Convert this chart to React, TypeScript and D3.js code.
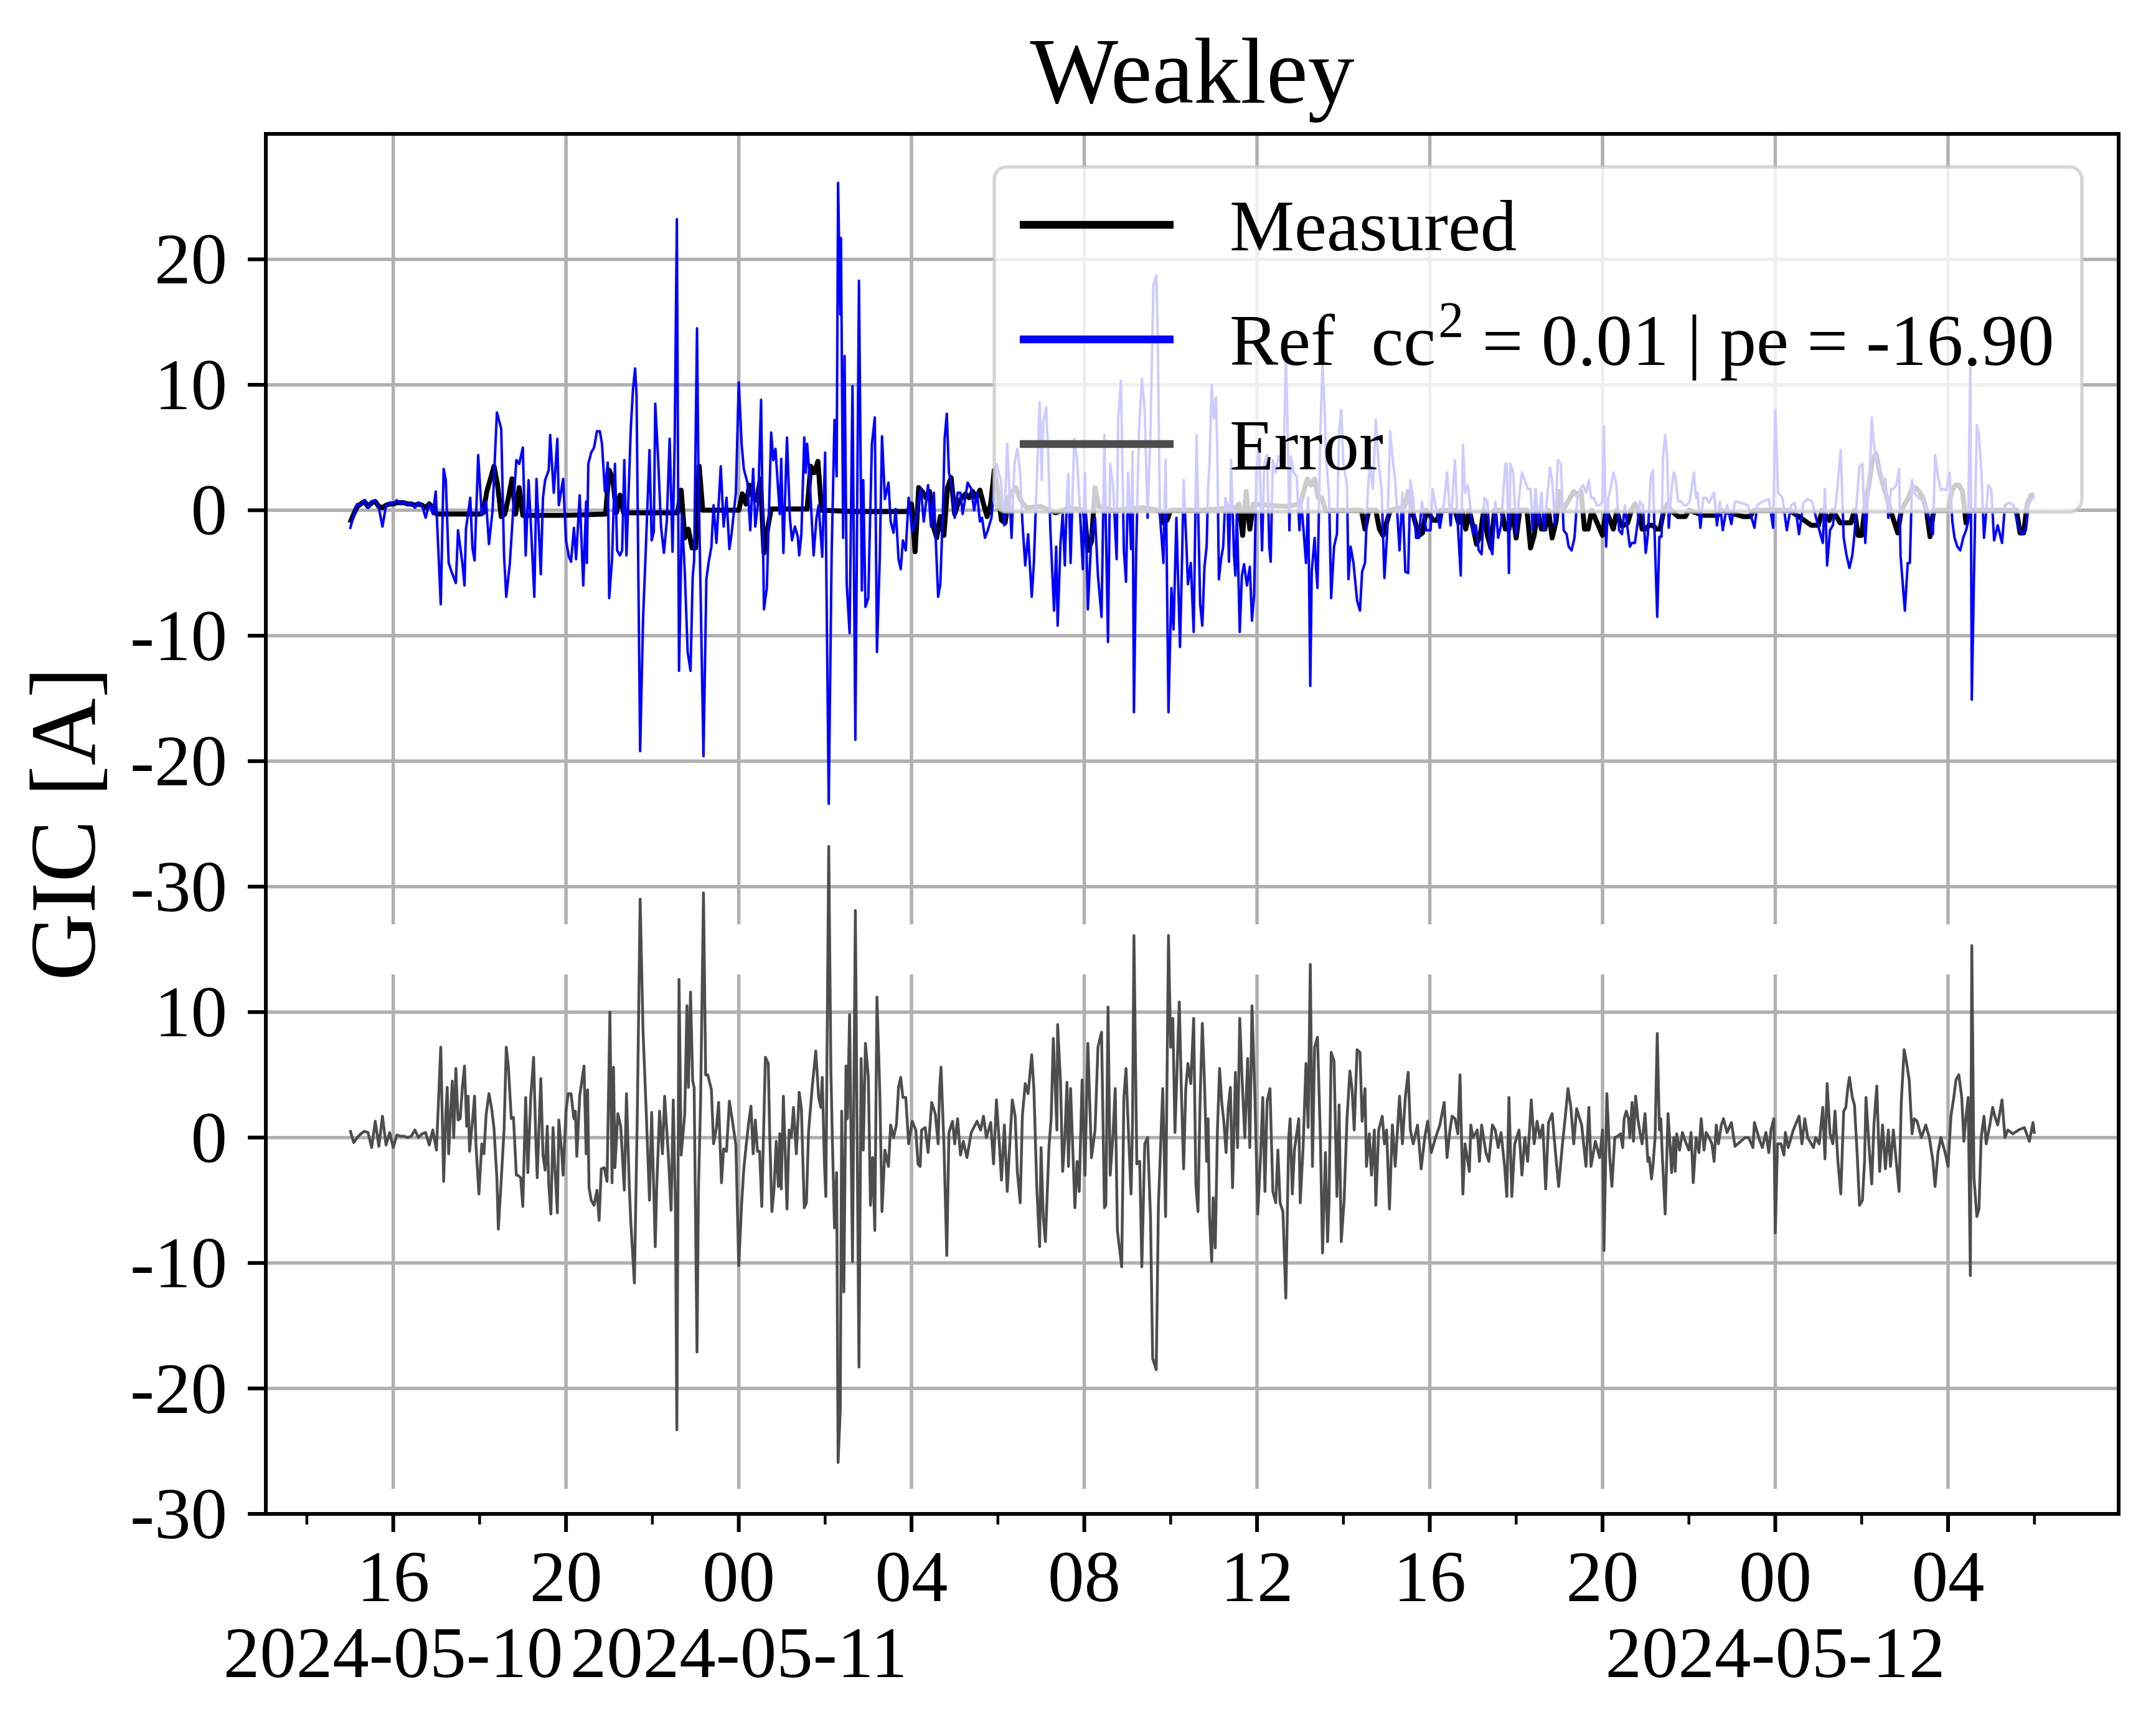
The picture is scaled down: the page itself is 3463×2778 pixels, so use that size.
import * as d3 from 'd3'

// minutes after 2024-05-10 15:00 UTC, GIC in amperes
const START = Date.UTC(2024, 4, 10, 15, 0)

const measured: [number, number][] = [
  [0,-1.0],[5,-0.3],[10,0.3],[15,0.5],[20,0.7],[25,0.3],[30,0.6],[35,0.7],[40,0.3],[45,0.2],[50,0.4],[55,0.5],[60,0.5],[65,0.6],[70,0.6],[75,0.6],[80,0.5],[85,0.5],[90,0.4],[95,0.5],[100,0.4],[105,0.2],[110,0.5],[115,0.2],[120,-0.3],[150,-0.3],[180,-0.3],[185,-0.2],[190,1.5],[195,2.5],[200,3.5],[205,2.0],[210,-0.5],[215,-0.3],[220,1.0],[225,2.5],[230,-0.3],[235,1.8],[240,-0.4],[300,-0.4],[355,-0.3],[360,3.2],[365,2.5],[370,-0.2],[375,1.2],[380,-0.2],[455,-0.2],[460,1.6],[465,-2.2],[470,-1.5],[475,-3.0],[480,-3.0],[485,3.5],[490,0.0],[540,0.0],[545,1.3],[550,0.5],[555,2.0],[560,1.0],[565,0.8],[570,2.5],[575,-3.4],[580,-1.5],[585,0.1],[635,0.1],[640,3.5],[645,3.0],[650,3.9],[655,0.0],[700,-0.1],[775,-0.1],[780,0.5],[785,-3.3],[790,1.8],[795,1.5],[800,1.0],[805,1.5],[810,-1.2],[815,-2.2],[820,-0.5],[825,-2.0],[830,1.8],[835,2.6],[840,-0.3],[845,0.6],[850,1.0],[855,1.3],[860,1.0],[865,1.5],[870,1.0],[875,1.6],[880,0.5],[885,-0.5],[890,0.5],[895,3.2],[900,1.5],[905,-0.8],[910,-1.0],[915,1.0],[920,1.5],[925,1.8],[930,1.0],[935,0.5],[940,0.2],[960,0.3],[980,-0.2],[1000,0.2],[1020,0.0],[1025,-3.2],[1030,-2.5],[1035,1.8],[1040,0.3],[1060,0.0],[1100,0.2],[1125,0.0],[1130,-1.0],[1135,-0.8],[1140,0.0],[1180,0.0],[1230,0.2],[1235,0.5],[1240,-2.0],[1245,1.5],[1250,-1.5],[1255,0.5],[1300,0.3],[1320,0.5],[1325,1.5],[1330,2.5],[1335,2.0],[1340,2.5],[1345,1.0],[1350,1.0],[1355,0.0],[1405,0.0],[1410,-1.5],[1415,0.0],[1425,0.0],[1430,-1.5],[1435,-2.0],[1440,-1.0],[1445,0.0],[1465,0.3],[1470,1.5],[1475,0.0],[1485,-2.0],[1490,-1.8],[1495,0.0],[1505,-0.8],[1510,-0.8],[1515,0.0],[1535,0.0],[1540,-1.0],[1545,0.0],[1550,-1.5],[1555,0.0],[1565,-2.7],[1570,-2.0],[1575,0.0],[1580,-2.0],[1585,-3.0],[1590,0.0],[1600,0.0],[1605,-1.5],[1610,-1.5],[1615,0.0],[1620,-2.2],[1625,0.0],[1635,0.0],[1640,-3.0],[1645,-2.0],[1650,0.0],[1655,-1.5],[1660,-1.5],[1665,0.0],[1670,-2.2],[1675,-1.0],[1680,1.5],[1685,0.0],[1700,1.5],[1705,1.2],[1710,1.5],[1715,-1.5],[1720,-1.5],[1725,0.0],[1740,-2.0],[1745,0.0],[1755,-1.5],[1760,0.0],[1765,-1.2],[1770,-1.2],[1775,-1.0],[1780,0.0],[1785,0.5],[1790,0.0],[1795,-1.5],[1800,-1.5],[1805,-1.2],[1810,-1.2],[1815,-1.5],[1820,-1.5],[1825,0.0],[1830,0.5],[1835,0.0],[1845,-0.5],[1855,-0.5],[1860,0.0],[1880,-0.4],[1900,-0.4],[1905,0.0],[1935,-0.5],[1945,-0.5],[1950,0.0],[2000,0.0],[2030,-1.2],[2040,-1.2],[2045,0.0],[2055,-0.8],[2060,0.0],[2070,-1.0],[2085,-1.0],[2090,0.0],[2095,-2.0],[2100,-2.0],[2105,0.5],[2110,2.0],[2115,4.0],[2120,4.5],[2125,3.0],[2130,2.0],[2135,1.0],[2140,0.0],[2150,-1.8],[2155,0.0],[2165,1.0],[2170,1.8],[2175,1.8],[2180,1.5],[2185,1.0],[2190,0.0],[2195,-2.1],[2200,0.0],[2220,0.0],[2225,1.5],[2230,2.0],[2235,2.0],[2240,1.5],[2245,-1.0],[2250,0.0],[2315,0.0],[2320,-1.8],[2325,-1.8],[2330,0.5],[2335,1.2],[2340,1.2],
]

const reference: [number, number][] = [
  [0,-1.5],[5,-0.4],[10,0.5],[15,0.4],[20,0.8],[25,0.2],[30,0.7],[35,0.8],[40,0.2],[45,-1.3],[50,0.4],[55,0.6],[60,0.5],[65,0.8],[70,0.5],[75,0.7],[80,0.4],[85,0.6],[90,0.2],[95,0.6],[100,0.4],[105,-0.6],[110,0.5],[115,-0.3],
  [119,1.5],[126,-7.5],[130,3.3],[133,2.4],[137,-4.2],[141,-4.9],[147,-5.8],[150,-1.6],[156,-4.2],[159,-6.0],[161,-1.5],[167,1.0],[170,-3.0],[173,-4.0],[178,4.4],[183,-0.4],[189,0.7],[193,-2.7],[198,0.0],[204,7.8],[210,6.5],[214,-3.7],[217,-6.9],[222,-4.2],[227,0.4],[231,4.0],[235,3.7],[240,5.0],[244,-3.6],[248,2.4],[251,-0.9],[256,-6.9],[259,2.5],[265,-5.1],[268,1.0],[271,2.4],[276,3.2],[278,6.0],[283,1.4],[288,5.7],[290,0.4],[296,2.5],[300,-2.4],[304,-3.7],[307,-4.1],[311,-1.4],[314,-3.9],[319,1.2],[324,-6.0],[328,0.7],[329,-4.2],[331,3.7],[335,4.6],[339,5.0],[343,6.3],[347,6.3],[350,5.3],[354,1.5],[358,3.8],[360,-7.0],[364,-3.9],[368,3.7],[371,-3.2],[375,-3.6],[378,-3.2],[381,4.0],[384,-3.6],[390,6.5],[393,9.6],[396,11.3],[398,9.2],[400,-2.2],[403,-19.2],[407,-8.8],[411,-2.9],[416,4.8],[419,-2.4],[422,-1.7],[424,8.5],[428,4.1],[432,-1.3],[436,-3.4],[440,-0.9],[444,5.7],[448,-3.3],[451,5.5],[454,23.2],[457,-12.8],[461,-0.4],[465,-4.9],[469,-11.3],[473,-12.8],[476,-5.3],[478,-4.0],[482,14.5],[484,3.0],[491,-19.6],[495,-5.5],[498,-4.2],[502,-2.9],[505,0.4],[509,-2.6],[515,3.5],[519,-1.3],[523,1.0],[527,-3.1],[530,-1.9],[536,1.4],[540,10.2],[544,5.3],[547,3.3],[552,2.2],[556,-1.6],[560,3.3],[563,-1.3],[567,0.7],[571,8.8],[575,-7.9],[579,-6.2],[585,6.2],
  [588,4.0],[591,4.9],[597,-0.3],[599,4.1],[602,-3.4],[607,5.8],[611,-0.6],[614,-2.4],[618,-1.3],[622,-2.1],[624,-3.6],[627,-1.9],[631,5.8],[633,3.0],[635,5.3],[638,3.0],[641,-0.3],[644,-3.6],[648,-0.6],[651,0.4],[656,-3.7],[660,4.6],[665,-23.4],[669,-3.6],[673,7.2],[676,2.7],[678,26.1],[681,15.6],[682,21.7],[685,-2.2],[687,12.3],[690,-5.9],[694,-9.8],[698,9.9],[702,-18.3],[707,18.3],[711,-6.4],[713,2.4],[716,-7.7],[720,-7.0],[722,-1.8],[725,5.3],[729,7.4],[732,-11.3],[736,-3.6],[739,5.9],[743,0.9],[748,2.2],[751,-0.9],[755,-1.8],[758,0.1],[762,-3.9],[765,-4.7],[768,-2.4],[772,-3.2],[776,1.0],[781,-1.7],[786,-0.8],[790,0.7],[793,1.7],[797,-0.9],[803,2.0],[807,-1.3],[811,1.4],[817,-6.9],[820,-5.9],[824,0.7],[826,5.7],[829,7.7],[832,3.0],[836,2.0],[840,-0.6],[844,1.4],[848,1.4],[851,-0.3],[855,1.1],[858,2.2],[863,1.7],[867,0.0],[871,1.4],[875,-0.9],[878,-0.6],[882,-2.2],[886,-1.6],[891,-0.6],[898,3.7],[904,2.4],[909,-1.2],[913,5.3],[919,-2.2],[923,3.7],[927,4.9],[931,3.0],[934,-0.9],[938,-4.4],[942,-1.9],[947,-6.9],[950,-4.2],[954,2.4],[958,8.6],[961,2.4],[963,7.0],[967,8.2],[970,4.3],[973,-1.7],[978,-8.0],[981,-2.9],[983,-9.2],[987,-2.6],[990,-0.3],[993,-4.4],[996,1.4],[998,2.9],[1001,-4.2],[1006,5.7],[1010,4.0],[1014,0.0],[1018,-4.7],[1021,3.0],[1025,-7.9],[1030,-1.9],[1035,-0.6],[1039,-5.2],[1044,-8.5],[1048,6.0],[1050,-1.2],[1053,-10.5],[1056,3.7],[1060,2.0],[1065,-3.9],[1067,7.3],[1071,10.3],[1075,-3.2],[1078,-5.7],[1081,3.0],[1085,-3.1],[1087,4.7],[1089,-16.1],[1092,-3.6],[1096,6.3],[1100,10.5],[1104,8.0],[1108,-0.6],[1112,6.2],[1116,17.9],[1120,18.7],[1122,14.3],[1125,-0.3],[1130,-4.2],[1133,4.0],[1137,-16.1],[1141,-6.2],[1144,-9.5],[1148,-0.6],[1153,-10.9],[1156,-3.6],[1158,2.4],[1162,-2.9],[1164,-5.9],[1168,-4.2],[1172,-9.7],
  [1176,6.0],[1181,-7.5],[1184,-9.2],[1187,-4.5],[1190,-2.9],[1192,1.7],[1194,3.7],[1197,10.0],[1200,7.3],[1203,9.0],[1205,4.0],[1207,-5.5],[1210,-3.9],[1213,-2.9],[1216,1.0],[1219,0.4],[1221,-4.1],[1224,4.0],[1228,-3.6],[1230,-5.2],[1232,0.0],[1236,-9.7],[1239,-5.2],[1242,-4.3],[1246,-6.0],[1250,-4.5],[1253,-8.8],[1256,-6.7],[1259,3.0],[1263,5.3],[1267,-3.2],[1270,3.7],[1274,4.4],[1277,-2.9],[1279,-4.1],[1282,4.0],[1286,3.0],[1290,4.3],[1294,3.7],[1297,4.3],[1300,12.0],[1302,8.0],[1305,-1.6],[1307,4.3],[1311,3.0],[1315,2.7],[1319,-1.6],[1321,1.0],[1325,-1.9],[1328,-4.2],[1331,1.0],[1334,-14.0],[1336,-4.9],[1340,-2.2],[1342,-4.6],[1344,-6.2],[1348,6.3],[1351,11.6],[1354,8.0],[1356,4.0],[1360,1.4],[1363,-7.0],[1367,-2.9],[1371,-1.9],[1374,6.3],[1377,8.0],[1380,3.7],[1385,2.0],[1387,-5.5],[1390,-2.9],[1394,-4.2],[1399,-7.2],[1403,-8.0],[1406,-4.9],[1410,-4.2],[1414,1.7],[1417,3.7],[1421,1.7],[1425,7.2],[1429,3.7],[1433,1.7],[1437,-5.4],[1441,-1.6],[1445,6.3],[1448,4.3],[1452,2.4],[1458,-3.2],[1462,1.4],[1466,-4.9],[1470,-5.0],[1473,2.4],[1477,1.0],[1481,-2.2],[1485,-2.2],[1489,0.7],[1495,-1.6],[1501,-1.6],[1504,1.7],[1508,0.4],[1514,-1.4],[1520,0.7],[1524,3.0],[1529,-1.2],[1535,4.0],[1539,-1.2],[1543,-5.2],[1546,5.2],[1549,1.4],[1553,2.0],[1556,0.4],[1560,-1.9],[1564,-1.2],[1568,-3.2],[1572,-3.5],[1576,1.0],[1580,0.7],[1584,-2.9],[1587,-3.5],[1591,0.7],[1595,-2.2],[1599,-1.2],[1605,3.7],[1607,3.7],[1610,-5.0],[1612,3.7],[1616,3.0],[1620,-1.9],[1624,1.0],[1628,3.0],[1632,2.4],[1636,1.7],[1640,1.7],[1643,-1.6],[1647,1.7],[1651,-1.2],[1655,1.4],[1659,-1.6],[1663,1.0],[1667,3.4],[1670,2.4],[1674,-1.2],[1678,4.0],[1682,3.7],[1686,-1.6],[1690,-1.9],[1693,-2.9],[1697,-3.2],[1701,-2.2],[1705,1.0],[1709,1.7],[1713,2.0],[1717,1.4],[1721,2.4],[1724,1.0],[1728,1.0],[1732,0.4],[1736,0.4],[1740,0.7],[1742,6.7],[1745,-2.9],[1748,1.0],[1751,1.7],[1755,3.0],[1759,2.2],[1763,-1.6],[1767,-1.9],[1771,0.4],[1775,-1.6],
  [1778,-2.9],[1781,-2.6],[1785,-2.6],[1789,-0.9],[1792,0.7],[1796,0.4],[1800,-3.4],[1803,-1.9],[1807,2.7],[1810,3.2],[1812,-1.2],[1816,-8.5],[1819,-2.1],[1822,-2.1],[1824,4.3],[1827,6.0],[1830,4.0],[1832,-1.4],[1836,1.7],[1839,3.0],[1841,2.8],[1845,0.7],[1849,0.7],[1853,0.4],[1857,0.4],[1861,0.7],[1863,1.5],[1867,3.0],[1870,1.0],[1872,1.4],[1876,-1.4],[1880,1.0],[1884,1.0],[1888,0.6],[1895,1.4],[1899,-1.2],[1903,0.7],[1907,-1.6],[1913,0.4],[1919,-1.1],[1924,0.7],[1932,0.6],[1942,0.4],[1951,-1.4],[1955,0.4],[1963,0.7],[1971,0.9],[1977,-1.4],[1980,8.0],[1984,1.4],[1990,1.0],[1996,-1.6],[2002,0.4],[2007,0.6],[2013,-1.9],[2019,0.6],[2025,0.9],[2031,0.7],[2038,-0.9],[2046,-2.6],[2049,1.7],[2052,-4.4],[2056,-1.6],[2060,-1.2],[2065,1.0],[2071,4.8],[2075,-2.2],[2079,-3.6],[2083,-4.6],[2087,-3.6],[2090,-1.9],[2094,1.4],[2097,3.5],[2101,3.7],[2105,-2.6],[2109,1.4],[2112,4.0],[2114,7.4],[2117,5.3],[2121,3.7],[2125,3.4],[2129,2.4],[2133,2.5],[2137,-0.6],[2141,1.7],[2144,1.7],[2148,2.0],[2152,3.3],[2154,-3.6],[2160,-8.0],[2164,-4.2],[2167,-4.2],[2170,2.4],[2173,1.4],[2179,1.0],[2187,0.7],[2199,-1.9],[2202,4.4],[2206,2.7],[2210,1.6],[2214,1.7],[2218,1.6],[2222,3.0],[2226,-0.9],[2229,-2.2],[2233,-2.9],[2237,-3.2],[2241,-2.2],[2245,-1.6],[2248,-0.9],[2251,11.5],[2253,-15.1],[2256,-5.3],[2260,6.8],[2263,6.0],[2266,3.4],[2270,-2.2],[2276,2.0],[2280,1.7],[2284,-2.4],[2289,-1.2],[2295,-2.6],[2299,0.4],[2305,0.6],[2311,0.4],[2316,-0.9],[2322,-1.9],[2328,-1.6],[2332,0.4],[2336,0.9],[2340,1.1],
]

const errorSeries: [number, number][] = [
  [0,0.6],[5,-0.4],[10,0.0],[15,0.3],[20,0.5],[25,0.4],[30,-0.8],[35,1.3],[40,-0.7],[45,1.7],[50,-0.6],[55,0.4],[60,-0.8],[65,0.2],[70,0.1],[75,0.1],[80,0.0],[85,0.1],[90,0.6],[95,0.0],[100,0.3],[105,0.4],[110,-0.6],[115,0.6],[120,-1.0],
  [126,7.2],[130,-3.5],[133,1.9],[135,4.0],[137,-1.3],[139,1.2],[142,4.5],[144,0.0],[147,5.5],[150,1.4],[153,1.5],[156,4.0],[159,5.7],[162,0.9],[164,3.3],[166,-1.1],[170,1.3],[173,3.3],[175,-0.7],[179,-4.5],[183,-0.5],[186,-1.3],[189,1.8],[193,3.5],[197,2.2],[200,0.7],[204,-3.3],[206,-7.3],[210,-3.4],[214,0.7],[217,7.2],[220,5.6],[224,1.5],[227,1.6],[231,-3.0],[233,-3.0],[237,-3.2],[240,-5.5],[244,3.2],[247,-2.8],[251,3.2],[255,6.4],[258,0.0],[260,-3.2],[265,4.7],[268,-1.4],[271,-2.6],[274,0.9],[276,-3.7],[279,-6.1],[282,0.8],[284,-1.8],[288,-6.0],[290,1.4],[294,-1.2],[296,-3.0],[300,2.1],[303,3.5],[307,3.5],[311,1.5],[313,2.1],[315,-1.5],[319,3.3],[325,5.7],[328,-1.3],[330,3.8],[332,-4.0],[335,-5.0],[339,-5.4],[343,-4.2],[346,-6.6],[349,-2.5],[353,-2.4],[357,-3.5],[361,10.0],[364,-3.6],[366,5.6],[368,-2.4],[372,1.9],[376,0.9],[381,-4.2],[384,3.5],[388,-4.0],[390,-6.7],[395,-11.6],[399,1.7],[403,19.0],[407,8.5],[411,2.7],[416,-5.0],[419,2.0],[424,-8.7],[426,-4.0],[430,2.1],[434,-1.3],[437,3.3],[442,-1.2],[446,-5.8],[449,3.0],[452,-5.5],[454,-23.3],[457,12.6],[460,-1.4],[465,1.9],[468,10.5],[470,4.0],[473,11.6],[476,4.5],[478,4.0],[482,-17.1],[484,-4.2],[487,2.9],[491,19.5],[494,5.0],[497,5.0],[502,3.8],[505,-0.5],[509,0.8],[512,2.8],[516,-3.6],[519,-0.9],[523,-1.1],[527,2.9],[531,1.4],[536,-0.6],[540,-10.2],[544,-5.3],[547,-2.5],[550,-0.8],[554,1.3],[557,2.5],[560,-1.3],[563,1.4],[566,-1.1],[569,-1.1],[572,-5.5],[577,6.4],[581,5.9],[583,0.3],
  [586,-5.9],[589,-4.1],[592,-0.3],[595,-3.9],[597,0.3],[599,-4.1],[602,3.3],[607,-5.7],[610,0.6],[613,0.0],[616,2.4],[620,-1.3],[624,3.6],[627,2.3],[631,-5.6],[634,-5.2],[637,0.5],[642,4.0],[647,6.9],[651,3.2],[654,2.4],[656,4.8],[659,-2.1],[661,-4.7],[665,23.2],[668,5.3],[670,0.0],[673,-7.2],[676,-2.8],[678,-25.9],[681,-21.7],[683,2.1],[686,-12.3],[689,5.7],[691,1.5],[694,9.8],[698,-9.9],[702,18.1],[707,-18.3],[710,6.3],[713,-1.0],[716,7.5],[720,4.8],[723,-5.4],[726,-1.6],[729,-7.4],[732,11.2],[736,3.5],[739,-5.9],[743,-1.0],[748,-2.3],[751,1.0],[755,0.0],[759,1.0],[762,4.0],[765,4.8],[768,3.2],[772,3.2],[776,-0.5],[781,1.3],[786,0.6],[789,-2.1],[792,-2.3],[794,0.6],[799,0.8],[803,-1.2],[808,2.8],[813,1.9],[817,-0.5],[819,3.9],[821,5.6],[825,-0.5],[829,-9.4],[832,0.4],[837,1.3],[840,-0.5],[844,1.5],[848,-1.4],[852,-0.3],[857,-1.6],[863,0.4],[871,1.3],[876,0.6],[880,1.7],[884,0.0],[890,1.2],[894,-2.1],[898,3.0],[902,-0.5],[905,-3.4],[909,1.0],[913,-4.3],[917,0.0],[920,3.0],[924,1.7],[927,-2.7],[931,-5.2],[934,1.7],[938,4.3],[942,3.5],[947,6.6],[950,3.9],[954,-3.9],[958,-8.7],[960,-0.8],[963,-6.3],[966,-8.3],[971,-0.7],[974,1.5],[977,7.9],[982,0.6],[983,9.0],[987,4.4],[990,-2.7],[993,0.0],[996,4.4],[998,-2.3],[1001,3.9],[1007,-5.6],[1010,-1.9],[1013,-4.3],[1017,4.6],[1021,-3.0],[1025,7.5],[1030,-1.6],[1035,0.6],[1039,7.2],[1044,8.4],[1048,-5.6],[1050,-5.4],[1053,10.4],[1056,-3.0],[1060,0.3],[1063,3.9],[1066,-7.4],[1072,-10.3],[1075,3.2],[1078,5.5],[1081,1.0],[1085,-4.5],[1087,1.0],[1089,16.1],[1093,-2.1],[1097,-1.9],[1100,-10.3],[1104,-0.5],[1108,0.0],[1112,-6.3],[1115,-17.6],[1120,-18.5],[1123,-5.4],[1125,-2.3],[1129,3.9],[1133,-6.3],[1137,16.1],[1140,7.2],[1143,9.5],[1146,0.4],[1152,10.8],[1155,3.5],[1158,-2.5],[1161,3.9],[1164,5.9],[1168,4.3],[1172,9.5],[1175,-3.7],
  [1178,-5.9],[1181,3.2],[1184,9.1],[1187,4.4],[1190,-1.9],[1192,1.5],[1194,-6.3],[1197,-9.9],[1199,-4.8],[1202,-8.8],[1205,0.6],[1208,5.5],[1211,2.8],[1214,1.2],[1217,-1.2],[1220,2.4],[1223,4.0],[1226,-4.0],[1230,5.2],[1233,-0.8],[1236,9.5],[1239,5.0],[1243,0.0],[1247,6.3],[1250,-0.8],[1253,10.5],[1257,3.3],[1261,-6.1],[1265,-1.4],[1268,3.2],[1271,-4.3],[1274,2.9],[1278,3.9],[1282,-4.3],[1286,-5.2],[1289,-1.0],[1292,-5.2],[1296,-5.9],[1300,-12.8],[1304,0.0],[1306,1.5],[1309,-4.5],[1312,-1.0],[1318,1.5],[1320,-5.2],[1324,-0.8],[1328,5.9],[1331,0.8],[1334,13.8],[1337,-2.3],[1340,7.2],[1344,8.0],[1348,0.0],[1351,-9.2],[1355,-1.2],[1358,-8.3],[1360,-5.2],[1363,6.8],[1367,6.1],[1371,-4.7],[1374,2.6],[1377,-8.3],[1381,-5.0],[1385,1.5],[1389,5.3],[1392,3.9],[1395,0.6],[1399,7.0],[1403,6.8],[1406,1.3],[1410,3.9],[1412,-2.3],[1416,0.3],[1419,-3.0],[1423,0.6],[1425,-5.4],[1429,0.6],[1434,1.7],[1437,-0.5],[1440,0.6],[1444,-5.7],[1448,1.0],[1452,-2.3],[1458,3.3],[1462,-0.5],[1466,3.2],[1470,5.2],[1473,0.6],[1477,-0.5],[1483,1.0],[1488,-2.5],[1493,0.0],[1497,1.3],[1502,-1.2],[1508,0.0],[1514,1.0],[1520,2.8],[1524,-1.6],[1528,0.6],[1531,1.7],[1535,1.5],[1539,0.3],[1542,5.0],[1546,-4.5],[1549,-0.5],[1555,-2.7],[1557,1.0],[1560,0.0],[1566,0.6],[1569,-1.9],[1572,1.0],[1578,-1.2],[1582,-1.9],[1587,1.0],[1591,0.6],[1595,-0.8],[1599,0.4],[1604,-2.3],[1607,-4.7],[1610,3.2],[1614,-4.7],[1618,-0.5],[1624,0.6],[1628,-3.0],[1632,0.0],[1636,-1.9],[1641,3.0],[1645,-0.5],[1649,1.3],[1653,0.0],[1657,1.0],[1661,-4.1],[1665,1.2],[1670,1.9],[1674,-0.8],[1679,-3.9],[1684,-0.7],[1688,1.5],[1692,3.9],[1696,2.4],[1700,-0.5],[1704,2.3],[1711,1.0],[1717,-2.3],[1721,2.4],[1724,-2.3],[1730,-0.3],[1736,-1.6],[1740,0.6],[1742,-9.0],[1746,3.5],[1750,-1.6],[1753,-3.9],[1757,0.0],[1761,0.1],
  [1765,0.3],[1768,-0.8],[1770,1.5],[1773,2.1],[1776,1.5],[1778,0.0],[1781,2.8],[1783,-0.3],[1786,3.3],[1789,1.5],[1792,0.4],[1795,-0.5],[1799,1.9],[1803,-1.9],[1805,-1.6],[1808,-3.3],[1810,-2.3],[1813,0.0],[1816,8.3],[1819,0.6],[1821,1.5],[1823,-1.4],[1827,-6.1],[1831,1.9],[1834,-0.8],[1836,-2.8],[1839,0.0],[1841,-2.7],[1843,0.3],[1847,-1.0],[1851,0.4],[1855,-0.3],[1860,-1.0],[1863,0.4],[1866,-3.6],[1870,0.0],[1874,-1.2],[1877,1.5],[1881,-1.0],[1884,0.4],[1888,0.0],[1892,-0.5],[1895,-1.9],[1898,1.0],[1901,-0.5],[1905,1.0],[1908,1.5],[1913,0.4],[1919,1.2],[1924,-0.7],[1932,-0.3],[1938,0.0],[1943,0.0],[1949,-0.8],[1951,1.2],[1957,0.0],[1962,-0.8],[1967,0.4],[1971,-1.2],[1974,0.6],[1978,1.5],[1980,-7.6],[1983,-0.5],[1988,-0.5],[1992,-1.4],[1994,0.4],[1998,-0.8],[2005,0.6],[2013,1.7],[2017,-0.5],[2021,1.5],[2025,0.0],[2033,-0.8],[2036,0.0],[2041,-0.5],[2046,2.4],[2049,-1.7],[2052,4.3],[2056,0.3],[2060,-0.5],[2063,2.1],[2067,-1.9],[2071,-4.5],[2075,2.1],[2078,2.4],[2081,4.1],[2083,4.8],[2087,3.2],[2090,2.6],[2094,-1.6],[2097,-5.4],[2101,-5.0],[2104,-1.9],[2106,3.2],[2110,-0.5],[2114,-3.7],[2117,1.0],[2121,4.1],[2123,0.6],[2125,-2.7],[2129,1.0],[2133,-2.5],[2137,0.6],[2140,-2.3],[2144,0.6],[2148,-1.9],[2152,-4.3],[2155,2.8],[2159,7.0],[2162,6.1],[2166,4.6],[2170,0.3],[2173,1.5],[2177,1.3],[2183,0.0],[2189,1.0],[2194,0.0],[2199,-1.9],[2202,-3.9],[2206,-1.2],[2210,0.0],[2216,-1.2],[2220,-2.3],[2224,1.7],[2228,3.2],[2231,4.6],[2235,5.0],[2239,3.2],[2242,-0.3],[2245,1.7],[2248,3.2],[2251,-11.0],[2253,15.3],[2256,-3.2],[2260,-6.3],[2263,-5.7],[2266,0.0],[2270,1.7],[2273,-0.5],[2278,1.0],[2282,2.4],[2285,1.7],[2289,1.0],[2295,3.0],[2299,0.0],[2303,0.6],[2310,0.3],[2318,0.6],[2326,0.8],[2333,-0.3],[2338,1.2],[2340,0.3],
]

const upperTicks = [20, 10, 0, -10, -20, -30]
const lowerTicks = [10, 0, -10, -20, -30]
const upperLim: [number, number] = [-80, 30]
const lowerLim: [number, number] = [-30, 80]

const legendItems = [
  { label: 'Measured', color: '#000000' },
  { label: 'Ref', color: '#0000ff' },
  { label: 'Error', color: '#4d4d4d' },
]

const FONT = '"Liberation Serif", "Times New Roman", serif'
const toDate = (m: number) => new Date(START + m * 60000)

export default function App() {
  const W = 3463, H = 2778
  const L = 427, R = 3403, T = 215, B = 2431
  const GRID = '#b0b0b0'

  const [m0, m1] = d3.extent(measured, d => d[0]) as [number, number]
  const pad = (m1 - m0) * 0.05
  const x = d3.scaleUtc().domain([toDate(m0 - pad), toDate(m1 + pad)]).range([L, R])
  const yU = d3.scaleLinear().domain(upperLim).range([B, T])
  const yL = d3.scaleLinear().domain(lowerLim).range([B, T])

  const majors = x.ticks(d3.utcHour.every(4)!)
  const minors = x.ticks(d3.utcHour.every(2)!).filter(d => d.getUTCHours() % 4 !== 0)
  const fmtH = d3.utcFormat('%H')
  const fmtD = d3.utcFormat('%Y-%m-%d')

  const lineU = d3.line<[number, number]>().x(d => x(toDate(d[0]))).y(d => yU(d[1]))
  const lineL = d3.line<[number, number]>().x(d => x(toDate(d[0]))).y(d => yL(d[1]))

  const lg = { x: 1597, y: 268, w: 1747, h: 554 }
  const handleY = [361, 545, 713]
  const textY = [402, 586, 754]

  return (
    <svg width={W} height={H} style={{ position: 'absolute', left: 0, top: 0, background: '#fff' }} fontFamily={FONT}>
      <defs>
        <clipPath id="ax"><rect x={L} y={T} width={R - L} height={B - T} /></clipPath>
      </defs>
      <rect width={W} height={H} fill="#fff" />

      {/* grid */}
      {upperTicks.map(v => <line key={'gu' + v} x1={L} x2={R} y1={yU(v)} y2={yU(v)} stroke={GRID} strokeWidth={5.5} />)}
      {lowerTicks.map(v => <line key={'gl' + v} x1={L} x2={R} y1={yL(v)} y2={yL(v)} stroke={GRID} strokeWidth={5.5} />)}
      {majors.map(d => (
        <g key={'gv' + d.getTime()}>
          <line x1={x(d)} x2={x(d)} y1={T} y2={yU(-33)} stroke={GRID} strokeWidth={5.5} />
          <line x1={x(d)} x2={x(d)} y1={yL(13)} y2={yL(-28)} stroke={GRID} strokeWidth={5.5} />
        </g>
      ))}

      {/* data */}
      <g clipPath="url(#ax)" fill="none" strokeLinejoin="round">
        <path d={lineU(measured) ?? ''} stroke="#000" strokeWidth={8} />
        <path d={lineU(reference) ?? ''} stroke="#0000ff" strokeWidth={4} />
        <path d={lineL(errorSeries) ?? ''} stroke="#4d4d4d" strokeWidth={4.5} />
      </g>

      {/* legend */}
      <rect x={lg.x} y={lg.y} width={lg.w} height={lg.h} rx={20} fill="#fff" fillOpacity={0.8} stroke="#cccccc" strokeOpacity={0.8} strokeWidth={5.5} />
      {legendItems.map((it, i) => (
        <line key={it.label} x1={1638} x2={1885} y1={handleY[i]} y2={handleY[i]} stroke={it.color} strokeWidth={12.5} />
      ))}
      <text x={1975} y={textY[0]} fontSize={117}>Measured</text>
      <text x={1975} y={textY[1]} fontSize={117} xmlSpace="preserve" style={{ whiteSpace: 'pre' }}>
        <tspan>{'Ref  cc'}</tspan>
        <tspan fontSize={82} dy={-45} dx={4}>2</tspan>
        <tspan dy={45}>{' = 0.01 | pe = -16.90'}</tspan>
      </text>
      <text x={1975} y={textY[2]} fontSize={117}>Error</text>

      {/* spines */}
      <rect x={L} y={T} width={R - L} height={B - T} fill="none" stroke="#000" strokeWidth={6} />

      {/* y ticks */}
      {upperTicks.map(v => (
        <g key={'tu' + v}>
          <line x1={L - 29} x2={L} y1={yU(v)} y2={yU(v)} stroke="#000" strokeWidth={6} />
          <text x={365} y={yU(v) + 39} fontSize={117} textAnchor="end">{String(v)}</text>
        </g>
      ))}
      {lowerTicks.map(v => (
        <g key={'tl' + v}>
          <line x1={L - 29} x2={L} y1={yL(v)} y2={yL(v)} stroke="#000" strokeWidth={6} />
          <text x={365} y={yL(v) + 39} fontSize={117} textAnchor="end">{String(v)}</text>
        </g>
      ))}

      {/* x ticks */}
      {minors.map(d => <line key={'mn' + d.getTime()} x1={x(d)} x2={x(d)} y1={B} y2={B + 17} stroke="#000" strokeWidth={4.5} />)}
      {majors.map((d, i) => (
        <g key={'mj' + d.getTime()}>
          <line x1={x(d)} x2={x(d)} y1={B} y2={B + 29} stroke="#000" strokeWidth={6} />
          <text x={x(d)} y={2571} fontSize={117} textAnchor="middle">{fmtH(d)}</text>
          {(i === 0 || d.getUTCHours() === 0) && (
            <text x={x(d)} y={2693} fontSize={117} textAnchor="middle">{fmtD(d)}</text>
          )}
        </g>
      ))}

      <text x={(L + R) / 2} y={165} fontSize={150} textAnchor="middle">Weakley</text>
      <text transform={`translate(152,${(T + B) / 2}) rotate(-90)`} fontSize={150} textAnchor="middle">GIC [A]</text>
    </svg>
  )
}
